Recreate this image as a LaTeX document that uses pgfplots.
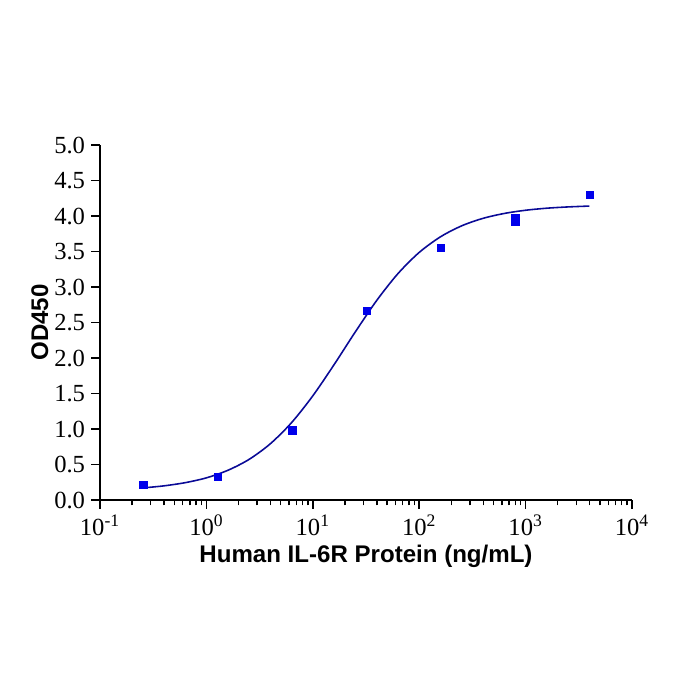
\documentclass[border=0pt]{standalone}
\usepackage{fontspec}
\setmainfont{Liberation Serif}
\setsansfont{Liberation Sans}
\usepackage{pgfplots}
\pgfplotsset{compat=1.18}

\definecolor{fitline}{RGB}{10,10,150}
\definecolor{markblue}{RGB}{0,0,235}

\begin{document}
\begin{tikzpicture}
\useasboundingbox (-2cm,-4cm) rectangle (12cm,10cm);
\begin{axis}[
    at={(0,0)}, anchor=south west,
    scale only axis,
    width=10.64cm, height=7.1cm,
    xmode=log, log basis x=10,
    xmin=0.1, xmax=10000,
    ymin=0, ymax=5,
    ytick={0,0.5,...,5},
    yticklabel style={/pgf/number format/.cd, fixed, fixed zerofill, precision=1},
    xtick={0.1,1,10,100,1000,10000},
    minor xtick={0.2,0.3,0.4,0.5,0.6,0.7,0.8,0.9,2,3,4,5,6,7,8,9,20,30,40,50,60,70,80,90,200,300,400,500,600,700,800,900,2000,3000,4000,5000,6000,7000,8000,9000},
    xticklabels={10\textsuperscript{\fontsize{10}{11}\selectfont -1},10\textsuperscript{\fontsize{10}{11}\selectfont 0},10\textsuperscript{\fontsize{10}{11}\selectfont 1},10\textsuperscript{\fontsize{10}{11}\selectfont 2},10\textsuperscript{\fontsize{10}{11}\selectfont 3},10\textsuperscript{\fontsize{10}{11}\selectfont 4}},
    /pgf/number format/assume math mode=true,
    tick label style={font=\fontsize{14}{16}\selectfont},
    axis lines*=left,
    axis line style={line width=0.9pt},
    tick style={black, line width=0.8pt},
    tick align=outside,
    major tick length=5pt,
    minor tick length=3pt,
    xtick pos=bottom, ytick pos=left,
    xlabel={\sffamily\bfseries\fontsize{13.7}{15}\selectfont Human IL-6R Protein (ng/mL)},
    ylabel={\sffamily\bfseries\fontsize{13.7}{15}\selectfont OD450},
    x label style={at={(axis description cs:0.5,-0.16)}, anchor=center},
    y label style={at={(axis description cs:-0.113,0.5)}, anchor=center},
    clip=false,
]
% fitted curve
\addplot[fitline, line width=0.9pt, smooth] coordinates {
(0.256,0.171) (0.398,0.199) (0.631,0.244) (1,0.312) (1.585,0.417)
(2.512,0.571) (3.981,0.791) (6.310,1.089) (10,1.467) (15.85,1.906)
(25.12,2.369) (39.81,2.809) (63.10,3.188) (100,3.487) (158.5,3.707)
(251.2,3.862) (398.1,3.967) (631.0,4.036) (1000,4.081) (1585,4.110)
(2512,4.128) (3981,4.140)
};
% measured points
\addplot[only marks, mark=square*, mark size=2.1pt, color=markblue] coordinates {
(0.256,0.21) (1.28,0.33) (6.4,0.98) (32,2.66) (160,3.55)
(800,3.97) (800,3.92) (4000,4.30)
};
\end{axis}
\end{tikzpicture}
\end{document}
